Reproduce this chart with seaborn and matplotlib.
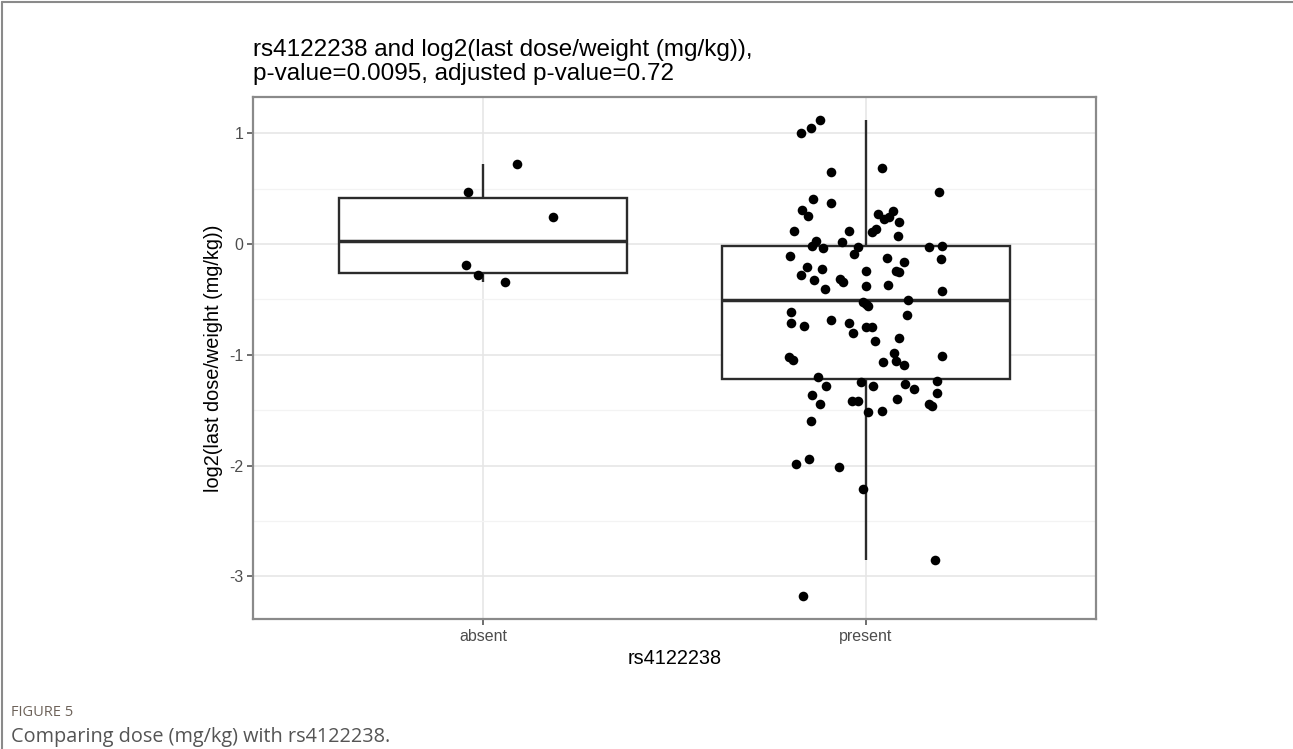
import numpy as np
import pandas as pd
import matplotlib
matplotlib.use("Agg")
import matplotlib.pyplot as plt
from matplotlib.lines import Line2D
import seaborn as sns

# categories and values
groups = ["absent", "present"]

absent_vals = [0.72, 0.47, 0.245, -0.19, -0.28, -0.345]
absent_jit = [0.089, -0.039, 0.183, -0.044, -0.013, 0.057]

present_vals = [
    1.123, 1.048, 1.0, 0.653, 0.684, 0.467, 0.406, 0.370, 0.307, 0.253,
    0.271, 0.301, 0.226, 0.241, 0.196, 0.115, 0.115, 0.111, 0.136, 0.075,
    0.030, 0.015, -0.021, -0.039, -0.030, -0.090, -0.024, -0.015, -0.105, -0.129,
    -0.136, -0.166, -0.211, -0.226, -0.280, -0.247, -0.241, -0.250, -0.325, -0.316,
    -0.346, -0.376, -0.370, -0.407, -0.422, -0.503, -0.542, -0.563, -0.639, -0.611,
    -0.717, -0.741, -0.684, -0.717, -0.804, -0.747, -0.753, -0.873, -0.852, -0.525,
    -1.024, -1.045, -0.985, -1.054, -1.093, -1.069, -1.009, -1.205, -1.280, -1.244,
    -1.286, -1.265, -1.310, -1.240, -1.349, -1.361, -1.448, -1.421, -1.421, -1.400,
    -1.445, -1.461, -1.521, -1.512, -1.599, -1.987, -1.942, -2.014, -2.213, -2.855,
    -3.177,
]
present_jit = [
    -0.121, -0.144, -0.170, -0.092, 0.041, 0.189, -0.138, -0.091, -0.168, -0.152,
    0.030, 0.070, 0.047, 0.060, 0.086, -0.188, -0.044, 0.016, 0.025, 0.082,
    -0.131, -0.063, -0.140, -0.112, -0.021, -0.031, 0.164, 0.198, -0.198, 0.054,
    0.195, 0.099, -0.153, -0.116, -0.170, 0.000, 0.077, 0.086, -0.136, -0.068,
    -0.060, 0.000, 0.057, -0.107, 0.197, 0.110, 0.000, 0.006, 0.108, -0.197,
    -0.197, -0.161, -0.092, -0.044, -0.034, 0.000, 0.015, 0.023, 0.086, -0.008,
    -0.201, -0.190, 0.073, 0.077, 0.099, 0.044, 0.199, -0.125, -0.104, -0.012,
    0.018, 0.101, 0.124, 0.186, 0.185, -0.142, -0.121, -0.036, -0.020, 0.081,
    0.164, 0.171, 0.006, 0.041, -0.144, -0.184, -0.149, -0.072, -0.007, 0.179,
    -0.164,
]

title_1 = "rs4122238 and log2(last dose/weight (mg/kg)),"
title_2 = "p-value=0.0095, adjusted p-value=0.72"
x_label = "rs4122238"
y_label = "log2(last dose/weight (mg/kg))"

df = pd.DataFrame({
    "group": ["absent"] * len(absent_vals) + ["present"] * len(present_vals),
    "value": absent_vals + present_vals,
    "jitter": absent_jit + present_jit,
})
df["xpos"] = df["group"].map({g: i for i, g in enumerate(groups)}) + df["jitter"]

sns.set_theme(style="white")
plt.rcParams["font.family"] = ["Liberation Sans", "DejaVu Sans"]

fig = plt.figure(figsize=(12.93, 7.49), dpi=100)
ax = fig.add_axes([253 / 1293, 1 - 619 / 749, (1096 - 253) / 1293, (619 - 97) / 749])

sns.boxplot(data=df, x="group", y="value", order=groups, width=0.75,
            showfliers=False, showcaps=False, color="white",
            linecolor="#2b2b2b", linewidth=1.7,
            medianprops=dict(linewidth=2.5, color="#2b2b2b"), ax=ax)
sns.scatterplot(data=df, x="xpos", y="value", color="black", s=48,
                linewidth=0, ax=ax, zorder=5)

ax.set_xlim(-0.6, 1.6)
ax.set_ylim(-3.386, 1.328)
ax.set_xticks([0, 1])
ax.set_xticklabels(groups)
ax.set_yticks([-3, -2, -1, 0, 1])
ax.set_yticklabels(["-3", "-2", "-1", "0", "1"])
ax.set_yticks([-2.5, -1.5, -0.5, 0.5], minor=True)

ax.grid(True, which="major", color="#e6e6e6", linewidth=1.2, zorder=0)
ax.grid(True, which="minor", axis="y", color="#f3f3f3", linewidth=0.9, zorder=0)
ax.set_axisbelow(True)

for sp in ax.spines.values():
    sp.set_visible(True)
    sp.set_color("#8a8a8a")
    sp.set_linewidth(1.6)

ax.tick_params(axis="both", which="major", length=4, width=1.2, color="#555555",
               labelcolor="#4d4d4d", labelsize=11.5, pad=3, left=True, bottom=True)
ax.tick_params(axis="both", which="minor", length=0)

ax.set_xlabel(x_label, fontsize=14.3, color="black", labelpad=4)
ax.set_ylabel(y_label, fontsize=14.3, color="black", labelpad=4)

fig.text(253 / 1293, 1 - 56 / 749, title_1, fontsize=17.5, color="black",
         ha="left", va="baseline")
fig.text(253 / 1293, 1 - 80 / 749, title_2, fontsize=17.5, color="black",
         ha="left", va="baseline")

# caption under the figure
fig.text(11 / 1293, 1 - 712 / 749, "FIGURE 5", fontsize=10.5, color="#6d6259",
         ha="left", va="center", family=["Open Sans", "DejaVu Sans"])
fig.text(11 / 1293, 1 - 737 / 749, "Comparing dose (mg/kg) with rs4122238.",
         fontsize=14.3, color="#555555", ha="left", va="center",
         family=["Open Sans", "DejaVu Sans"])

# frame lines on the left and top edges
fig.add_artist(Line2D([2 / 1293, 2 / 1293], [0, 1 - 2 / 749], color="#8a8a8a",
                      linewidth=1.5, transform=fig.transFigure))
fig.add_artist(Line2D([2 / 1293, 1], [1 - 2 / 749, 1 - 2 / 749], color="#8a8a8a",
                      linewidth=1.5, transform=fig.transFigure))

fig.savefig("out.png", dpi=100)
